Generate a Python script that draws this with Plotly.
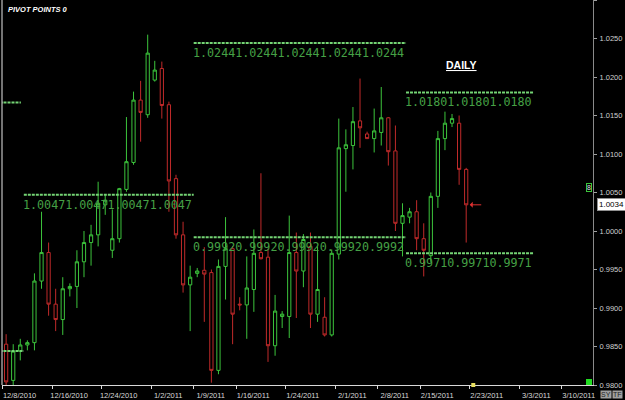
import plotly.graph_objects as go

# ---------------- data ----------------
dates = ["2010-12-08","2010-12-09","2010-12-10","2010-12-12","2010-12-13","2010-12-14","2010-12-15",
         "2010-12-16","2010-12-17","2010-12-19","2010-12-20","2010-12-21","2010-12-22","2010-12-23",
         "2010-12-24","2010-12-26","2010-12-27","2010-12-28","2010-12-29","2010-12-30","2010-12-31",
         "2011-01-02","2011-01-03","2011-01-04","2011-01-05","2011-01-06","2011-01-07","2011-01-09",
         "2011-01-10","2011-01-11","2011-01-12","2011-01-13","2011-01-14","2011-01-16","2011-01-17",
         "2011-01-18","2011-01-19","2011-01-20","2011-01-21","2011-01-23","2011-01-24","2011-01-25",
         "2011-01-26","2011-01-27","2011-01-28","2011-01-30","2011-01-31","2011-02-01","2011-02-02",
         "2011-02-03","2011-02-04","2011-02-06","2011-02-07","2011-02-08","2011-02-09","2011-02-10",
         "2011-02-11","2011-02-13","2011-02-14","2011-02-15","2011-02-16","2011-02-17","2011-02-18",
         "2011-02-20","2011-02-21","2011-02-22"]
opens  = [0.9853,0.9806,0.9844,0.9852,0.9855,0.9935,0.9972,0.9905,0.9885,0.9925,0.9928,0.9960,0.9985,0.9995,
          1.0034,0.9975,0.9990,1.0054,1.0089,1.0170,1.0151,1.0196,1.0211,1.0164,1.0068,0.9995,0.9930,0.9945,
          0.9949,0.9946,0.9819,0.9954,0.9977,0.9905,0.9904,0.9924,0.9972,0.9966,0.9851,0.9889,0.9889,0.9972,
          0.9948,0.9980,0.9892,0.9888,0.9865,0.9970,1.0107,1.0111,1.0143,1.0126,1.0120,1.0128,1.0147,1.0104,
          1.0010,1.0018,1.0025,0.9990,0.9968,1.0045,1.0120,1.0140,1.0140,1.0080]
highs  = [0.9866,0.9853,0.9860,0.9858,0.9945,1.0025,0.9985,0.9925,0.9940,0.9932,0.9975,1.0000,1.0008,1.0064,
          1.0047,1.0028,1.0056,1.0148,1.0181,1.0195,1.0255,1.0221,1.0220,1.0168,1.0073,1.0012,0.9955,0.9952,
          0.9979,0.9950,0.9963,1.0018,0.9980,0.9914,0.9967,1.0002,1.0075,0.9977,0.9917,0.9896,1.0020,0.9998,
          0.9996,0.9998,0.9980,0.9914,0.9976,1.0146,1.0132,1.0161,1.0198,1.0129,1.0159,1.0187,1.0148,1.0137,
          1.0036,1.0030,1.0040,1.0010,1.0050,1.0130,1.0155,1.0152,1.0150,1.0082]
lows   = [0.9795,0.9788,0.9832,0.9845,0.9845,0.9925,0.9890,0.9870,0.9865,0.9915,0.9900,0.9940,0.9955,0.9980,
          1.0021,0.9965,0.9985,1.0051,1.0086,1.0116,1.0147,1.0194,1.0146,1.0025,0.9990,0.9920,0.9870,0.9940,
          0.9882,0.9803,0.9814,0.9911,0.9853,0.9897,0.9860,0.9895,0.9963,0.9830,0.9838,0.9874,0.9861,0.9887,
          0.9927,0.9874,0.9882,0.9863,0.9863,0.9963,1.0051,1.0080,1.0108,1.0120,1.0102,1.0111,1.0085,1.0000,
          0.9967,1.0010,0.9975,0.9941,0.9960,1.0030,1.0105,1.0135,1.0060,0.9985]
closes = [0.9804,0.9844,0.9852,0.9855,0.9935,0.9972,0.9905,0.9885,0.9925,0.9928,0.9960,0.9985,0.9995,1.0036,
          1.0040,0.9990,1.0055,1.0090,1.0170,1.0154,1.0231,1.0209,1.0163,1.0065,0.9995,0.9930,0.9940,0.9948,
          0.9944,0.9819,0.9954,0.9977,0.9892,0.9904,0.9926,0.9971,0.9964,0.9851,0.9896,0.9892,0.9972,0.9948,
          0.9989,0.9892,0.9924,0.9865,0.9971,1.0108,1.0112,1.0142,1.0134,1.0120,1.0130,1.0147,1.0103,1.0010,
          1.0020,1.0025,0.9990,0.9975,1.0045,1.0120,1.0140,1.0146,1.0080,1.0034]

# pivot levels: (start, end, value, label)
pivot_starts = ["2010-12-07", "2010-12-07", "2010-12-11", "2011-01-08", "2011-01-08", "2011-02-12", "2011-02-12"]
pivot_ends   = ["2010-12-10 14:00", "2010-12-11", "2011-01-08", "2011-02-12", "2011-02-12", "2011-03-05", "2011-03-05"]
pivot_values = [1.0167, 0.9844, 1.0047, 1.0244, 0.9992, 1.0180, 0.9971]
pivot_labels = ["", "", "1.00471.00471.00471.0047", "1.02441.02441.02441.02441.0244",
                "0.99920.99920.99920.99920.9992", "1.01801.01801.0180", "0.99710.99710.9971"]

tick_dates  = ["2010-12-08","2010-12-16","2010-12-24","2011-01-02","2011-01-09","2011-01-16","2011-01-24",
               "2011-02-01","2011-02-08","2011-02-15","2011-02-23","2011-03-03","2011-03-10"]
tick_labels = ["12/8/2010","12/16/2010","12/24/2010","1/2/2011","1/9/2011","1/16/2011","1/24/2011",
               "2/1/2011","2/8/2011","2/15/2011","2/23/2011","3/3/2011","3/10/2011"]
price_ticks = [0.98, 0.985, 0.99, 0.995, 1.0, 1.005, 1.01, 1.015, 1.02, 1.025, 1.03]
last_price = 1.0034
current_date = "2011-02-23"

# ---------------- figure ----------------
GREEN = "#3cc43c"
RED = "#c02a2a"
fig = go.Figure()
fig.add_trace(go.Candlestick(
    x=[d + " 12:00" for d in dates], open=opens, high=highs, low=lows, close=closes,
    increasing=dict(line=dict(color=GREEN, width=1), fillcolor="rgba(0,0,0,0)"),
    decreasing=dict(line=dict(color=RED, width=1), fillcolor="rgba(0,0,0,0)"),
    whiskerwidth=0, showlegend=False, hoverinfo="skip"))

for s, e, v, lab in zip(pivot_starts, pivot_ends, pivot_values, pivot_labels):
    fig.add_shape(type="line", xref="x", yref="y", x0=s, x1=e, y0=v, y1=v,
                  line=dict(color="#74d474", width=2, dash="3px,1px"))
    if lab:
        fig.add_annotation(x=s, y=v, xref="x", yref="y", text=lab, showarrow=False,
                           xanchor="left", yanchor="top", xshift=-3, yshift=-1,
                           font=dict(family="DejaVu Sans Mono", size=11.7, color="#45a045"))

# left white border
fig.add_shape(type="line", xref="paper", yref="paper", x0=0, x1=0, y0=0, y1=1,
              line=dict(color="#e8e8e8", width=1))
# green square marker at bottom right of plot
fig.add_shape(type="rect", xref="paper", yref="paper", xsizemode="pixel", ysizemode="pixel",
              xanchor=1, yanchor=0, x0=-7, x1=-1, y0=0, y1=6,
              fillcolor="#22dd22", line=dict(width=0))
# yellow current-time marker on the time axis
fig.add_shape(type="rect", xref="x", yref="paper", xsizemode="pixel", ysizemode="pixel",
              xanchor=current_date + " 12:00", yanchor=0, x0=-2, x1=2, y0=-2, y1=2,
              fillcolor="#e8e060", line=dict(width=0))

fig.add_annotation(xref="paper", yref="paper", x=0.007, y=1, xanchor="left", yanchor="top", yshift=-3,
                   text="<b><i>PIVOT POINTS 0</i></b>", showarrow=False,
                   font=dict(family="Arial", size=7.5, color="white"))
fig.add_annotation(xref="paper", yref="paper", x=0.778, y=0.83, xanchor="center", yanchor="middle",
                   text="<b>DAILY</b>", showarrow=False,
                   font=dict(family="Arial", size=10.5, color="white", lineposition="under"))
# small marker box near the price axis
fig.add_annotation(xref="paper", yref="y", x=1, y=1.0056, xanchor="right", xshift=-1,
                   text="8", showarrow=False, bgcolor="black", bordercolor="#3cc43c", borderwidth=1,
                   borderpad=0, font=dict(family="Arial", size=7, color="#e0e0e0"))
# current price label
fig.add_annotation(xref="paper", yref="y", x=1, y=last_price, xanchor="left", xshift=4,
                   text="1.0034", showarrow=False, bgcolor="white", bordercolor="#909090", borderwidth=1,
                   borderpad=1, font=dict(family="Arial", size=8, color="black"))
# red arrow to last candle
fig.add_annotation(xref="x", yref="y", x="2011-02-23 00:00", y=last_price, ax=13, ay=0,
                   showarrow=True, arrowhead=1, arrowsize=1, arrowwidth=1, arrowcolor="#e03030", text="")
# SY TF boxes
for lab, xs in [("SY", 612), ("TF", 623)]:
    fig.add_annotation(xref="paper", yref="paper", x=1, y=0, xanchor="right", yanchor="top",
                       xshift=xs - 625 + 32, yshift=-5, text=lab, showarrow=False, bgcolor="#a0a0a0",
                       borderpad=0, font=dict(family="Arial", size=7, color="#202020"))

fig.update_layout(
    width=625, height=400, margin=dict(l=2, r=32, t=0, b=13),
    paper_bgcolor="black", plot_bgcolor="black", showlegend=False,
    xaxis=dict(type="date", range=["2010-12-07 22:00", "2011-03-15 10:00"],
               rangebreaks=[dict(bounds=["sat", "sun"])], rangeslider=dict(visible=False),
               showgrid=False, zeroline=False, showline=True, linecolor="#d8d8d8", linewidth=1,
               ticks="outside", ticklen=3, tickcolor="#d8d8d8", tickvals=tick_dates, ticktext=tick_labels,
               ticklabelshift=17, ticklabelstandoff=0,
               tickfont=dict(family="Arial", size=7.5, color="#d8d8d8")),
    yaxis=dict(side="right", range=[0.98, 1.03], showgrid=False, zeroline=False,
               showline=True, linecolor="#8a8a8a", linewidth=1, ticks="outside", ticklen=3,
               tickcolor="#a0a0a0", tickvals=price_ticks, ticktext=[f"{v:.4f}" for v in price_ticks],
               ticklabelstandoff=1, tickfont=dict(family="Arial", size=7.5, color="#d0d0d0")),
    boxgap=0.35,
)
fig.write_html("out.html")
